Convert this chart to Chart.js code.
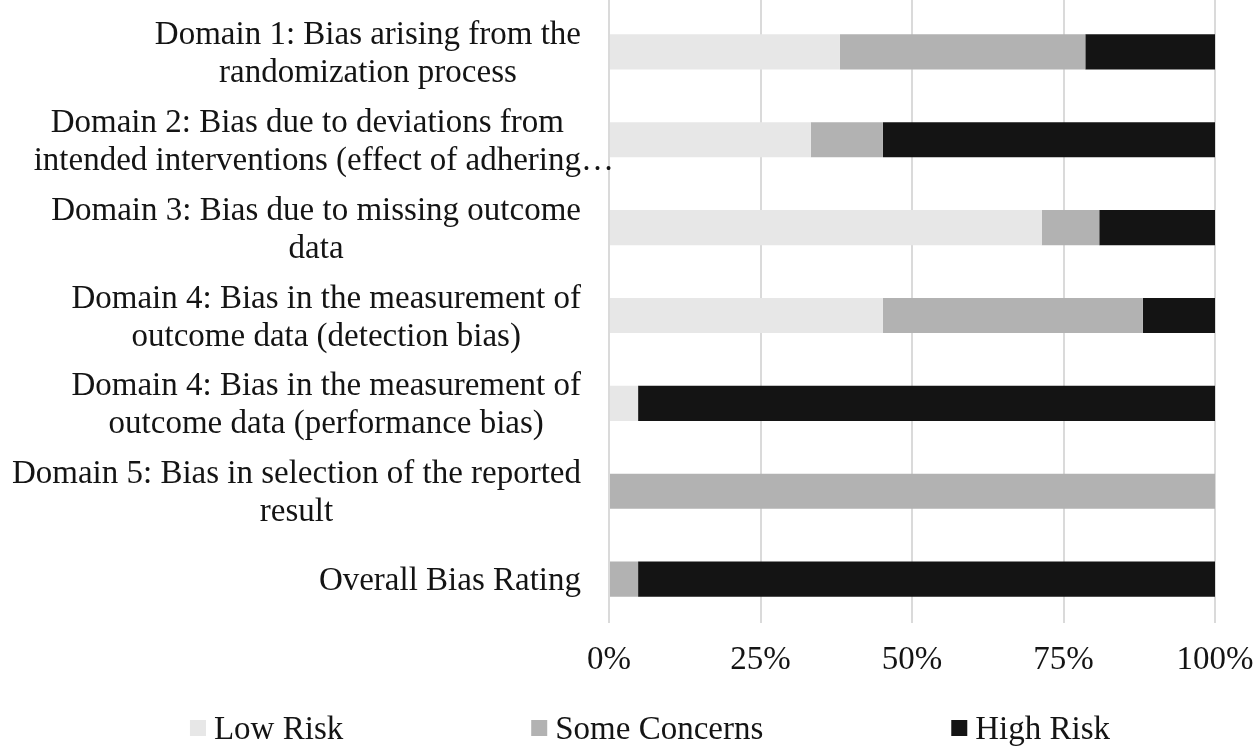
<!DOCTYPE html>
<html>
<head>
<meta charset="utf-8">
<script src="https://cdn.jsdelivr.net/npm/chart.js@4"></script>
<style>
  html, body { margin: 0; padding: 0; background: #ffffff; }
  #wrap { width: 1260px; height: 753px; position: relative; }
</style>
</head>
<body>
<div id="wrap"><canvas id="c" width="1260" height="753"></canvas></div>
<script>
const categories = [
  ['Domain 1: Bias arising from the', 'randomization process'],
  ['Domain 2: Bias due to deviations from', 'intended interventions (effect of adhering\u2026'],
  ['Domain 3: Bias due to missing outcome', 'data'],
  ['Domain 4: Bias in the measurement of', 'outcome data (detection bias)'],
  ['Domain 4: Bias in the measurement of', 'outcome data (performance bias)'],
  ['Domain 5: Bias in selection of the reported', 'result'],
  ['Overall Bias Rating']
];
const seriesNames = ['Low Risk', 'Some Concerns', 'High Risk'];
const lowRisk      = [38.1, 33.3, 71.4, 45.2, 4.8,   0,   0];
const someConcerns = [40.5, 11.9,  9.5, 42.9, 0,   100,  4.8];
const highRisk     = [21.4, 54.8, 19.1, 11.9, 95.2,  0,  95.2];
const xTicks = [0, 25, 50, 75, 100];

const FONT = '"Liberation Serif", "Times New Roman", serif';
const TEXT = '#141414';
const FSIZE = 33;
const GRID = '#dadada';

const gridTopPlugin = {
  id: 'gridTop',
  beforeDatasetsDraw(chart) {
    const ctx = chart.ctx;
    const xs = chart.scales.x;
    ctx.save();
    ctx.strokeStyle = GRID;
    ctx.lineWidth = 2;
    xs.ticks.forEach(t => {
      const x = Math.round(xs.getPixelForValue(t.value));
      ctx.beginPath();
      ctx.moveTo(x, 0);
      ctx.lineTo(x, chart.chartArea.top + 1);
      ctx.stroke();
    });
    ctx.restore();
  }
};

const labelPlugin = {
  id: 'customLabels',
  afterDraw(chart) {
    const ctx = chart.ctx;
    const yScale = chart.scales.y;
    ctx.save();
    ctx.font = FSIZE + 'px ' + FONT;
    ctx.fillStyle = TEXT;
    ctx.textBaseline = 'alphabetic';
    ctx.textAlign = 'left';
    const rightEdge = chart.chartArea.left - 28;
    const lineH = 38;
    const capHalf = 11;
    chart.data.labels.forEach((lines, i) => {
      const cy = yScale.getPixelForValue(i);
      const core = lines.map(l => ctx.measureText(l.replace(/\u2026$/, '')).width);
      const widest = Math.max(...core);
      const center = rightEdge - widest / 2;
      lines.forEach((l, j) => {
        const y = cy + (j - (lines.length - 1) / 2) * lineH + capHalf;
        ctx.fillText(l, center - core[j] / 2, y);
      });
    });
    // legend
    const ds = chart.data.datasets;
    const box = 16, gapBox = 8, gapItem = 188;
    const widths = ds.map(d => box + gapBox + ctx.measureText(d.label).width);
    const total = widths.reduce((a, b) => a + b, 0) + gapItem * (ds.length - 1);
    let x = 650 - total / 2;
    const ly = 728;
    ds.forEach((d, i) => {
      ctx.fillStyle = d.backgroundColor;
      ctx.fillRect(x, ly - box / 2, box, box);
      ctx.fillStyle = TEXT;
      ctx.fillText(d.label, x + box + gapBox, ly + capHalf);
      x += widths[i] + gapItem;
    });
    ctx.restore();
  }
};

new Chart(document.getElementById('c'), {
  type: 'bar',
  data: {
    labels: categories,
    datasets: [
      { label: seriesNames[0], data: lowRisk, backgroundColor: '#e7e7e7' },
      { label: seriesNames[1], data: someConcerns, backgroundColor: '#b2b2b2' },
      { label: seriesNames[2], data: highRisk, backgroundColor: '#141414' }
    ]
  },
  options: {
    indexAxis: 'y',
    responsive: false,
    animation: false,
    devicePixelRatio: 1,
    layout: { padding: { left: 609, right: 45, top: 8, bottom: 0 } },
    datasets: { bar: { barPercentage: 0.4, categoryPercentage: 1, borderWidth: 0 } },
    plugins: { legend: { display: false }, tooltip: { enabled: false } },
    scales: {
      x: {
        stacked: true,
        min: 0, max: 100,
        afterBuildTicks(scale) { scale.ticks = xTicks.map(v => ({ value: v })); },
        afterFit(scale) { scale.height = 130; scale.paddingLeft = 0; scale.paddingRight = 0; },
        grid: { color: GRID, lineWidth: 2, drawTicks: false, tickLength: 0 },
        border: { display: false },
        ticks: {
          padding: 18,
          color: TEXT,
          font: { family: FONT, size: FSIZE },
          callback: v => v + '%',
          maxRotation: 0,
          autoSkip: false
        }
      },
      y: {
        stacked: true,
        display: false
      }
    }
  },
  plugins: [gridTopPlugin, labelPlugin]
});
</script>
</body>
</html>
